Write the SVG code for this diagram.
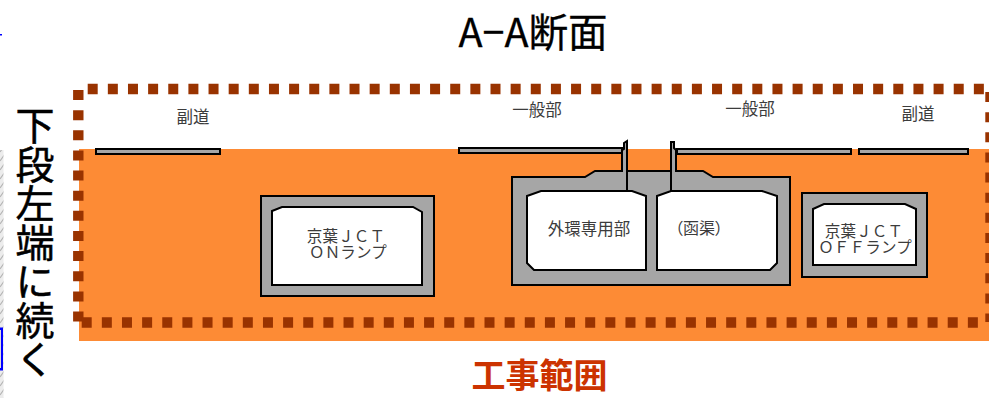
<svg xmlns="http://www.w3.org/2000/svg" width="989" height="398" viewBox="0 0 989 398">
<style>
text{font-family:"Noto Sans CJK JP","Liberation Sans",sans-serif}
.s{fill:#a6a6a6;stroke:#000;stroke-width:2}
.c{fill:#fff;stroke:#000;stroke-width:2}
.l{font-size:16.5px;fill:#3c3c3c;text-anchor:middle}
.r{font-size:15.5px;letter-spacing:.2px}
.d{fill:none;stroke:#993300;stroke-width:10.4;stroke-dasharray:10 10.14}
</style>
<defs>
<pattern id="noise" width="6" height="9" patternUnits="userSpaceOnUse">
<rect width="6" height="9" fill="#ececec"/>
<path d="M0 8L5 1" stroke="#b4b4b4" stroke-width="1.2"/>
</pattern>
</defs>
<rect width="989" height="398" fill="#fff"/>
<g id="left-edge">
<rect x="0" y="150" width="3.500" height="248" fill="url(#noise)"/>
<rect x="-1" y="328.500" width="3" height="41" fill="#ddd" stroke="#00f" stroke-width="2"/>
<rect x="0" y="34" width="2" height="1.500" fill="#00f"/>
</g>
<rect id="ground" x="79" y="149" width="910" height="192" fill="#fd8b35"/>
<g id="decks">
<rect class="s" x="96" y="149" width="124" height="5"/>
<rect class="s" x="459" y="148" width="163" height="5"/>
<rect class="s" x="677" y="149" width="174" height="5"/>
<rect class="s" x="859" y="149" width="109" height="5"/>
</g>
<g id="node-main-box">
<path class="s" d="M512 177H585L595 171H622V150L624 149V143L627 141V171H671V142H674V148L676 150V171H703L713 177H790V285H512Z"/>
<path fill="none" stroke="#000" stroke-width="2" d="M627 141V191M671 142V191"/>
<path class="c" d="M527 196L541 191H632L646 196V270H534L527 263Z"/>
<path class="c" d="M657 196L671 191H762L777 196V263L770 270H657Z"/>
<text class="l" x="589" y="235">外環専用部</text>
<text class="l" x="699" y="234" style="font-size:16px;font-feature-settings:'palt'">（函渠）</text>
</g>
<g id="node-on-ramp">
<rect class="s" x="261" y="196" width="173" height="100"/>
<path class="c" d="M272 211L282 207H413L422 212V285H272Z"/>
<text class="l r"><tspan x="346" y="242">京葉ＪＣＴ</tspan><tspan x="348" y="258">ＯＮランプ</tspan></text>
</g>
<g id="node-off-ramp">
<rect class="s" x="802" y="193" width="125" height="84"/>
<path class="c" d="M813 209L824 204H905L916 209V265H813Z"/>
<text class="l r"><tspan x="864" y="237">京葉ＪＣＴ</tspan><tspan x="865" y="253">ＯＦＦランプ</tspan></text>
</g>
<g id="labels">
<text class="l" x="193" y="123">副道</text>
<text class="l" x="537" y="116">一般部</text>
<text class="l" x="750" y="115">一般部</text>
<text class="l" x="918" y="120">副道</text>
<text x="533" y="47" font-size="39.500" fill="#000" stroke="#000" stroke-width=".3" text-anchor="middle">A−A断面</text>
<text x="539.500" y="388" font-size="34" font-weight="700" fill="#cc3300" text-anchor="middle">工事範囲</text>
<text x="35" y="106" font-size="39" fill="#000" stroke="#000" stroke-width=".5" style="writing-mode:vertical-rl">下段左端に続く</text>
</g>
<g id="boundary">
<path class="d" d="M87.700 89H989"/>
<path class="d" d="M78.300 90V322"/>
<path class="d" d="M81.700 322.500H985"/>
<path class="d" d="M990.500 92V322"/>
</g>
</svg>
